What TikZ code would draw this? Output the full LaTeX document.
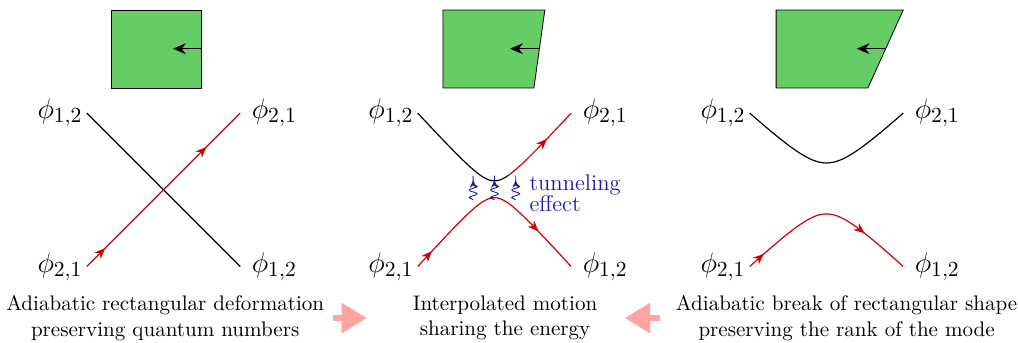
\documentclass[tikz,border=0pt]{standalone}
\usepackage{amsmath, amssymb}
\usepackage{tikz}
\usetikzlibrary{arrows.meta, positioning, calc, decorations.markings, decorations.pathmorphing}
\definecolor{boxgreen}{HTML}{66CC66}
\definecolor{modered}{HTML}{CC0000}
\definecolor{tunnelblue}{HTML}{1A1AA6}
\definecolor{stepink}{HTML}{FFA3A3}
\tikzset{
  phi/.style={font=\fontsize{15.5}{18}\selectfont, inner sep=0pt},
  shapebox/.style={draw, fill=boxgreen, line width=0.4pt},
  pull/.style={-{Stealth[length=6.5pt, width=5.5pt]}, line width=0.5pt},
  mode/.style={semithick},
  redmode/.style 2 args={semithick, modered, postaction={decorate},
    decoration={markings,
      mark=at position #1 with {\arrow{Stealth[length=5.5pt, width=4.5pt]}},
      mark=at position #2 with {\arrow{Stealth[length=5.5pt, width=4.5pt]}}}},
  redmodeone/.style={semithick, modered, postaction={decorate},
    decoration={markings,
      mark=at position #1 with {\arrow{Stealth[length=5.5pt, width=4.5pt]}}}},
  tunnel/.style={tunnelblue, line width=0.45pt, decorate,
    decoration={snake, amplitude=2pt, segment length=3.8pt, post length=0.6pt},
    -{Stealth[length=3.8pt, width=3.4pt]}},
  caption/.style={align=center, font=\fontsize{10.7}{13}\selectfont},
  steparrow/.style={line width=3pt, stepink, -{Triangle[length=0.45cm, width=0.52cm]}}
}
\begin{document}
\begin{tikzpicture}
  \useasboundingbox (0,-2.73) rectangle (18.18,3.39);

  % panel 1: plain rectangle, crossing modes
  \begin{scope}[xshift=2.92cm]
    \draw[shapebox] (-0.93,1.82) -- (-0.93,3.21) -- (0.67,3.21) -- (0.67,1.82) -- cycle;
    \draw[pull] (0.67,2.52) -- (0.17,2.52);
    \coordinate (tl1) at (-1.37,1.37);
    \coordinate (tr1) at (1.37,1.37);
    \coordinate (bl1) at (-1.37,-1.37);
    \coordinate (br1) at (1.37,-1.37);
    \node[phi, anchor=east] (ltl1) at ([xshift=-0.07cm]tl1) {$\phi_{1,2}$};
    \node[phi, anchor=west] (ltr1) at ([xshift=0.2cm]tr1) {$\phi_{2,1}$};
    \node[phi, anchor=east] (lbl1) at ([xshift=-0.07cm]bl1) {$\phi_{2,1}$};
    \node[phi, anchor=west] (lbr1) at ([xshift=0.2cm]br1) {$\phi_{1,2}$};
    \draw[mode] (tl1) -- (br1);
    \draw[redmode={0.12}{0.78}] (bl1) -- (tr1);
    \node[caption] (cap1) at (0.03,-2.29) {Adiabatic rectangular deformation\\preserving quantum numbers};
  \end{scope}

  % panel 2: slightly tilted side, avoided crossing
  \begin{scope}[xshift=8.83cm]
    \draw[shapebox] (-0.92,1.82) -- (-0.92,3.21) -- (0.90,3.21) -- (0.705,1.82) -- cycle;
    \draw[pull] (0.80,2.52) -- (0.28,2.52);
    \coordinate (tl2) at (-1.37,1.37);
    \coordinate (tr2) at (1.37,1.37);
    \coordinate (bl2) at (-1.37,-1.37);
    \coordinate (br2) at (1.37,-1.37);
    \node[phi, anchor=east] (ltl2) at ([xshift=-0.07cm]tl2) {$\phi_{1,2}$};
    \node[phi, anchor=west] (ltr2) at ([xshift=0.2cm]tr2) {$\phi_{2,1}$};
    \node[phi, anchor=east] (lbl2) at ([xshift=-0.07cm]bl2) {$\phi_{2,1}$};
    \node[phi, anchor=west] (lbr2) at ([xshift=0.2cm]br2) {$\phi_{1,2}$};
    \draw[mode] plot[domain=-1.37:0.25, samples=60] (\x, {0.16+1.097*(sqrt(0.09+\x*\x)-0.3)});
    \draw[redmodeone=0.6] plot[domain=0.25:1.37, samples=40] (\x, {0.16+1.097*(sqrt(0.09+\x*\x)-0.3)});
    \draw[redmode={0.1}{0.77}] plot[domain=-1.37:1.37, samples=90] (\x, {-0.14-1.116*(sqrt(0.09+\x*\x)-0.3)});
    \foreach \t in {-0.38, 0, 0.38}
      \draw[tunnel] (\t,-0.18) -- (\t,0.17);
    \node[align=left, anchor=west, tunnelblue, inner sep=0pt, font=\fontsize{11.5}{10.8}\selectfont] (tun) at (0.62,-0.06) {tunneling\\effect};
    \node[caption] (cap2) at (0.19,-2.29) {Interpolated motion\\sharing the energy};
  \end{scope}

  % panel 3: strongly sheared side, split modes
  \begin{scope}[xshift=14.76cm]
    \draw[shapebox] (-0.90,1.82) -- (-0.90,3.21) -- (1.37,3.21) -- (0.74,1.82) -- cycle;
    \draw[pull] (1.05,2.52) -- (0.54,2.52);
    \coordinate (tl3) at (-1.37,1.37);
    \coordinate (tr3) at (1.37,1.37);
    \coordinate (bl3) at (-1.37,-1.37);
    \coordinate (br3) at (1.37,-1.37);
    \node[phi, anchor=east] (ltl3) at ([xshift=-0.07cm]tl3) {$\phi_{1,2}$};
    \node[phi, anchor=west] (ltr3) at ([xshift=0.2cm]tr3) {$\phi_{2,1}$};
    \node[phi, anchor=east] (lbl3) at ([xshift=-0.07cm]bl3) {$\phi_{2,1}$};
    \node[phi, anchor=west] (lbr3) at ([xshift=0.2cm]br3) {$\phi_{1,2}$};
    \draw[mode] plot[domain=-1.37:1.37, samples=80] (\x, {sqrt(0.48*0.48+0.877*\x*\x)});
    \draw[redmode={0.1}{0.73}] plot[domain=-1.37:1.37, samples=80] (\x, {-sqrt(0.43*0.43+0.90*\x*\x)});
    \node[caption] (cap3) at (0.36,-2.29) {Adiabatic break of rectangular shape\\preserving the rank of the mode};
  \end{scope}

  % arrows between the captions
  \coordinate (s1) at (5.95,-2.29);
  \coordinate (e1) at (6.55,-2.29);
  \coordinate (s2) at (11.79,-2.29);
  \coordinate (e2) at (11.16,-2.29);
  \draw[steparrow] (s1) -- (e1);
  \draw[steparrow] (s2) -- (e2);
\end{tikzpicture}
\end{document}
